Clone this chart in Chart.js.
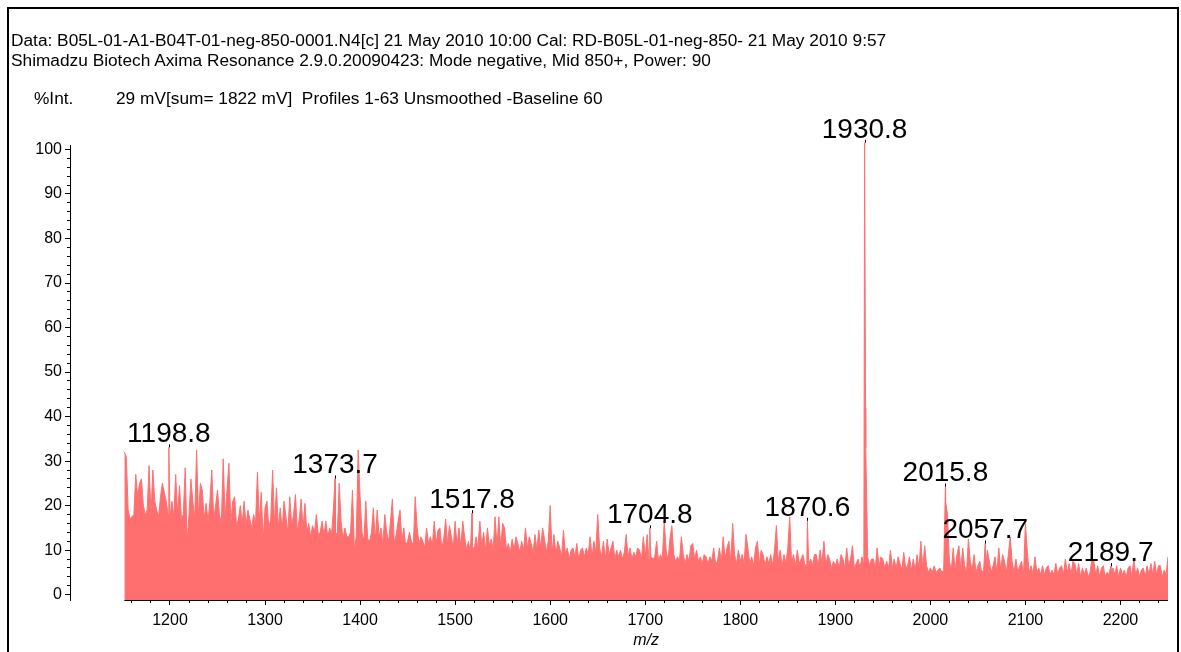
<!DOCTYPE html>
<html>
<head>
<meta charset="utf-8">
<script src="https://cdn.jsdelivr.net/npm/chart.js@4.4.1/dist/chart.umd.min.js"></script>
<style>
html,body{margin:0;padding:0;background:#fff;}
#wrap{position:relative;width:1181px;height:652px;overflow:hidden;font-family:"Liberation Sans",Arial,sans-serif;color:#000;}
#frame{position:absolute;left:7px;top:7px;width:1172px;height:720px;border:2px solid #000;box-sizing:border-box;pointer-events:none;}
.t{position:absolute;white-space:pre;font-size:17.3px;line-height:20px;}
#c{position:absolute;left:0;top:0;}
</style>
</head>
<body>
<div id="wrap">
  <canvas id="c" width="1181" height="652"></canvas>
  <div class="t" style="left:11px;top:30px;">Data: B05L-01-A1-B04T-01-neg-850-0001.N4[c] 21 May 2010 10:00 Cal: RD-B05L-01-neg-850- 21 May 2010 9:57</div>
  <div class="t" style="left:11px;top:50px;">Shimadzu Biotech Axima Resonance 2.9.0.20090423: Mode negative, Mid 850+, Power: 90</div>
  <div class="t" style="left:34px;top:88px;">%Int.</div>
  <div class="t" style="left:116px;top:88px;">29 mV[sum= 1822 mV]  Profiles 1-63 Unsmoothed -Baseline 60</div>
  <div id="frame"></div>
</div>
<script>
// ---- data ----
const NOISE_START = 1152;   // m/z of first sample
const NOISE_STEP = 2;       // m/z between samples
const NOISE = [
  32,31,19,17,17.5,18,27,22,25,26,20,18,19,29,18,28,21,19,17.5,22,25,23,21,18,17,
  21,17.5,27,18,24.5,17,18,28.5,12,18,26,21,17,32.5,17.5,25,23.5,17,20.5,16.5,21,28,17,20,23.5,
  18,16,30.5,17,23.5,29.5,16,21,22,15.5,17,20,16,21,15.5,19,17,15,18,16,27.5,16.5,23,12,19.5,
  21,15,17,28,15.5,24,15,19.5,14.5,21,17.5,14,22,15.5,18,22.5,14,17,21.5,15,20.5,14,16,13,15.5,
  14,18,13.5,14,16.5,13.5,16.5,13,15,13.5,19.5,14,13.5,25,16.5,12.5,15,13,13,14,23.5,10,13,32.5,22,
  14,12,21,12.5,12,14,19.5,12,19,13,15,11.5,18,14,12,16.5,21.5,11.5,13.5,16.5,19,12,15,11,12,
  14,12,11,22,15,11.5,13,12,10.5,15,11.5,13,11,16.5,11.5,14.5,15,10.5,12.5,17,11.5,15.5,13,10.5,16.5,
  11,15,10.5,16.5,13,10,12,9.5,11,10,13,10.5,16.5,11,14,10,15,11,12.5,10,17.5,11,17.5,10.5,16,
  15,10,11.5,9.5,12.5,10,13,11.5,9.5,12,10,15,10.5,13,11.5,9.5,13.5,10,14.5,10.5,15,12.5,9.5,12,20,
  9.5,13.5,9,12,10.5,8.5,14.5,9,10.5,8,10,10.5,8.5,11.5,8,10,10.5,8.5,10.5,9,13,8.5,12,9.5,18,
  10.5,8.5,12,8,12.5,9,10.5,12,8,10,8.5,10,8,9.5,13.5,8.5,10.5,8,9.5,8.5,10.5,10,8,13,8.5,
  13.5,7.5,8.5,8,8.5,12,7.5,9,8,16.5,10,7.5,12.5,15.5,9,7.5,8.5,7.5,13,9,7,9,7.5,11,11.5,
  8,10,7.5,8.5,7,9,8.5,7,8.5,7.5,10.5,7,7.5,10.5,7.5,13,8,10.5,12,7.5,16,9,7,10,7.5,
  9,7,13.5,10.5,7,8.5,6.5,10.5,12,7,10,9,6.5,8.5,7,9,6.5,10,15.5,7.5,10,6.5,9,7,10.5,
  17.5,7,9,6.5,10,7,8,9,6.5,7,7,8,6.5,9,9,6.5,10,7,12,6.5,9,8,6,7.5,6.5,
  8,6,9,8,6,10.5,6.5,8,11,6,7,8,6,8.5,6.5,33,8.5,6.5,8,8,6,10.5,6.5,8.5,8,
  6,7.5,6,10,6,8,6,8.5,7,5.5,9.5,6,6.5,8.5,5.5,8,5.5,9,6,12,6,11,6.5,5,6,
  5,6.5,5,5.5,6,5,5.5,21,18,7.5,5.5,10.5,5.5,9,11,5.5,10.5,6.5,5,12.5,7.5,5.5,9,5,6.5,
  7.5,5,5.5,5.5,10,7.5,5,6.5,8.5,5,10.5,5.5,9,7.5,5,9,13,7.5,5,8,5,6.5,7.5,4.5,16,
  9.5,5,6.5,4.5,8.5,5,6,4.5,6.5,4.5,6,6.5,4.5,5.5,4.5,7,4.5,6,6.5,4.5,8,5,7,4.5,7.5,
  7,4.5,7,4,6,4.5,6,4,5,8,7.5,4.5,6.5,4,6,6.5,4,5,4.5,4.5,6,4.5,6.5,4,6,
  4.5,5.5,4,6,6.5,4,8,4.5,6,4,5.5,6,4,6.5,4.5,7,4.5,7.5,4.5,6.5,6.5,4,5.5,4.5,8.5
];
const PEAK_MZ     = [1198.8, 1373.7, 1517.8, 1704.8, 1870.6, 1930.8, 2015.8, 2057.7, 2189.7];
const PEAK_INT    = [33.1,   26.1,   18.3,   14.9,   16.6,   101.5,  24.3,   11.5,   6.4];
const PEAK_LABELS = ["1198.8","1373.7","1517.8","1704.8","1870.6","1930.8","2015.8","2057.7","2189.7"];
const SHOULDER_MZ  = [1931.8, 1932.8];
const SHOULDER_INT = [42, 24];

const X_MIN = 1094.8, X_MAX = 2250;
const Y_MIN = -1.2, Y_MAX = 101;
const X_MAJOR = 100, X_MINOR = 20, Y_MAJOR = 10, Y_MINOR = 2;
const X_FIRST_TICK = 1150;

// ---- build points ----
const points = [];
NOISE.forEach((v, i) => points.push({x: NOISE_START + i * NOISE_STEP, y: v}));
PEAK_MZ.forEach((m, i) => points.push({x: m, y: PEAK_INT[i]}));
SHOULDER_MZ.forEach((m, i) => points.push({x: m, y: SHOULDER_INT[i]}));
points.sort((a, b) => a.x - b.x);

const FONT = '"Liberation Sans", Arial, sans-serif';
const RED = '#ff6f6f';

const decor = {
  id: 'decor',
  afterDatasetsDraw(chart) {
    const {ctx, chartArea, scales} = chart;
    const x = scales.x, y = scales.y;
    ctx.save();
    ctx.strokeStyle = '#000';
    ctx.lineWidth = 1;
    const yb = Math.round(chartArea.bottom) + 0.5;
    ctx.beginPath();
    ctx.moveTo(x.getPixelForValue(NOISE_START), yb);
    ctx.lineTo(chartArea.right, yb);
    ctx.stroke();
    ctx.fillStyle = '#000';
    ctx.font = '28px ' + FONT;
    ctx.textAlign = 'center';
    ctx.textBaseline = 'alphabetic';
    PEAK_MZ.forEach((m, i) => {
      const px = x.getPixelForValue(m);
      const py = y.getPixelForValue(PEAK_INT[i]);
      ctx.fillRect(Math.round(px), py - 3, 1, 3);
      ctx.fillText(PEAK_LABELS[i], px, py - 5);
    });
    ctx.font = 'italic 16px ' + FONT;
    ctx.textBaseline = 'middle';
    const cx = (x.getPixelForValue(NOISE_START) + x.getPixelForValue(X_MAX)) / 2;
    ctx.fillText('m/z', cx, chartArea.bottom + 41);
    ctx.restore();
  }
};

const tickVisible = c => (c.tick && c.tick.value >= X_FIRST_TICK) ? '#000' : 'rgba(0,0,0,0)';

new Chart(document.getElementById('c'), {
  type: 'line',
  data: {
    datasets: [{
      data: points,
      parsing: false,
      borderColor: RED,
      backgroundColor: RED,
      borderWidth: 1,
      pointRadius: 0,
      tension: 0,
      fill: 'start',
      clip: {left: 0, top: 6, right: 0, bottom: 0},
      xAxisID: 'x',
      yAxisID: 'y'
    }]
  },
  options: {
    responsive: false,
    animation: false,
    devicePixelRatio: 1,
    events: [],
    layout: {padding: {top: 145, right: 13, left: 0, bottom: 0}},
    plugins: {legend: {display: false}, tooltip: {enabled: false}},
    scales: {
      x: {
        type: 'linear', position: 'bottom', min: X_MIN, max: X_MAX,
        ticks: {
          stepSize: X_MAJOR, includeBounds: false, autoSkip: false, maxRotation: 0,
          color: '#000', font: {family: FONT, size: 16}, padding: 6,
          callback: v => v >= X_FIRST_TICK ? String(v) : ''
        },
        grid: {drawOnChartArea: false, drawTicks: true, tickLength: 5, tickColor: tickVisible, tickWidth: 1},
        border: {display: false},
        afterFit: s => { s.height = 52; }
      },
      x2: {
        type: 'linear', display: true, position: {y: Y_MIN}, min: X_MIN, max: X_MAX,
        ticks: {display: false, stepSize: X_MINOR, includeBounds: false},
        grid: {drawOnChartArea: false, drawTicks: true, tickLength: 3, tickColor: tickVisible, tickWidth: 1},
        border: {display: false}
      },
      y: {
        type: 'linear', position: 'left', min: Y_MIN, max: Y_MAX,
        ticks: {stepSize: Y_MAJOR, includeBounds: false, autoSkip: false, color: '#000', font: {family: FONT, size: 16}, padding: 3},
        grid: {drawOnChartArea: false, drawTicks: true, tickLength: 5, tickColor: '#000'},
        border: {display: true, color: '#000', width: 1},
        afterFit: s => { s.width = 70; }
      },
      y2: {
        type: 'linear', display: true, position: {x: X_MIN}, min: Y_MIN, max: Y_MAX,
        ticks: {display: false, stepSize: Y_MINOR, includeBounds: false},
        grid: {drawOnChartArea: false, drawTicks: true, tickLength: 3, tickColor: '#000'},
        border: {display: false}
      }
    }
  },
  plugins: [decor]
});
</script>
</body>
</html>
